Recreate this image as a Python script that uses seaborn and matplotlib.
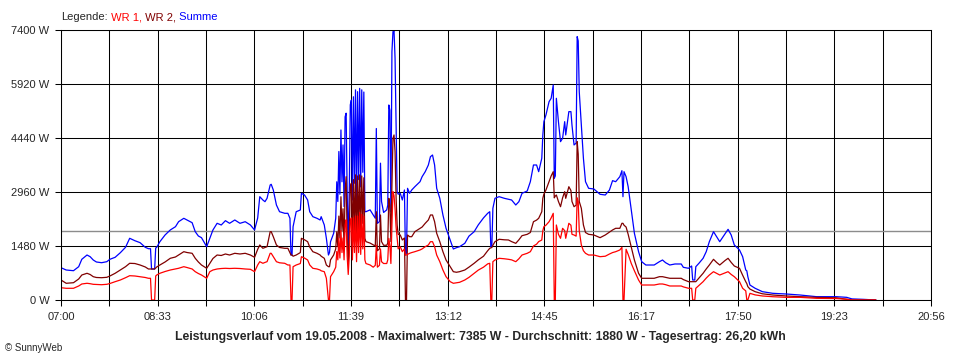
import matplotlib
matplotlib.use("Agg")
import matplotlib.pyplot as plt
import numpy as np
import pandas as pd
import seaborn as sns

# minutes after 07:00, values in W
minutes = [
    # 07:00 - 10:09
    0, 5, 12, 17, 20, 25, 28, 31, 34, 39, 44, 47, 52, 57, 62,
    66, 71, 76, 81, 84, 86, 87, 90, 91, 92, 95, 100, 105, 110, 113,
    118, 121, 126, 129, 132, 135, 140, 143, 146, 150, 154, 158, 162, 167, 172,
    177, 182, 186, 189,
    # 10:11 - 11:22
    191, 194, 196, 198, 201, 202, 204, 207, 210, 215, 218, 220, 221, 222, 223,
    226, 230, 231, 234, 237, 239, 242, 246, 249, 250, 253, 255, 257, 258, 259,
    262,
    # 11:24 - 11:53 (cloud spikes)
    264, 265, 266, 267, 268, 269, 270, 271, 272, 273, 274, 275, 276, 277, 278,
    279, 280, 281, 282, 283, 284, 285, 286, 287, 288, 289, 290, 291, 292, 293,
    # 11:57 - 20:03
    297, 300, 302, 303, 304, 306, 307, 308, 310, 313,
    314, 315, 316, 317, 318, 319, 320, 321, 322, 323,
    324, 326, 328, 330, 331, 332, 333, 335, 337, 340,
    345, 347, 350, 353, 355, 357, 359, 361, 364, 367,
    370, 374, 377, 380, 383, 388, 392, 397, 401, 406,
    410, 412, 413, 414, 415, 417, 421, 426, 430, 433,
    437, 440, 443, 448, 451, 454, 457, 459, 462, 463,
    464, 466, 469, 471, 473, 474, 475, 476, 478, 480,
    482, 484, 485, 488, 490, 491, 493, 495, 496, 497,
    498, 500, 502, 504, 507, 512, 518, 523, 527, 530,
    533, 537, 539, 540, 541, 543, 545, 548, 551, 555,
    558, 562, 570, 575, 578, 581, 585, 590, 596, 598,
    603, 606, 607, 609, 610, 613, 617, 620, 623, 627,
    630, 633, 638, 641, 644, 647, 652, 655, 658, 659,
    660, 662, 667, 674, 684, 697, 710, 726, 745, 755,
    760, 771, 783,
]

summe = [
    885, 822, 803, 913, 1116, 1233, 1187, 1096, 1042, 1022, 1050, 1116, 1170, 1296, 1444,
    1691, 1625, 1571, 1444, 1406, 1406, 850, 850, 1425, 1444, 1598, 1782, 1919, 2009, 2146,
    2239, 2193, 2119, 1872, 1754, 1708, 1461, 1691, 1919, 2102, 2056, 2174, 2102, 2193, 2102,
    2146, 2056, 1919, 2248,
    2832, 2740, 2695, 2787, 3152, 3171, 3015, 2604, 2420, 2376, 2376, 2239, 1233, 1233, 2009,
    2420, 2467, 2924, 2878, 2741, 2420, 2284, 2239, 2193, 2284, 2056, 1691, 1233, 1300, 1598,
    1828,
    2240, 3240, 2700, 4070, 2900, 4660, 3240, 4250, 2560, 5020, 5120, 2920, 1460, 3000, 5350,
    5480, 2740, 5570, 3200, 5760, 2700, 5710, 3300, 5800, 3100, 5760, 3500, 5700, 2420, 2420,
    2470, 2330, 2240, 4700, 2100, 2150, 3750, 2700, 2400, 2470,
    2600, 5345, 5200, 2420, 6806, 7355, 7385, 6624, 4888, 2969,
    2900, 2924, 2741, 3015, 1233, 1300, 3061, 2924, 3015, 3105,
    3243, 3380, 3517, 3700, 3928, 3974, 3700, 3061, 2787, 2330,
    1965, 1645, 1398, 1434, 1461, 1553, 1750, 1872, 2060, 2250,
    2376, 2420, 1461, 1461, 2512, 2787, 2832, 2787, 2760, 2741,
    2604, 2695, 2924, 2988, 3243, 3700, 3700, 3517, 3884, 4523,
    4888, 5071, 5436, 5528, 5893, 3336, 3400, 5528, 4888, 4340,
    4432, 4888, 4523, 5162, 5162, 4797, 4249, 4300, 7218, 7100,
    5710, 4797, 3884, 3243, 3061, 3043, 2897, 2878, 3015, 3271,
    3243, 3380, 3545, 2832, 3517, 3380, 3105, 2467, 1828, 1324,
    1050, 959, 959, 1050, 1096, 1022, 959, 987, 987, 896,
    869, 932, 548, 548, 913, 1006, 1143, 1324, 1598, 1872,
    1735, 1598, 1809, 1937, 1782, 1508, 1371, 1187, 822, 800,
    639, 411, 321, 228, 183, 164, 137, 91, 91, 73,
    30, 18, 0,
]

wr2 = [
    548, 458, 474, 576, 685, 732, 699, 639, 617, 611, 622, 658, 732, 822, 913,
    1006, 1000, 959, 905, 850, 850, 850, 850, 877, 905, 959, 1042, 1143, 1179, 1233,
    1324, 1302, 1280, 1143, 1042, 959, 869, 1006, 1138, 1233, 1220, 1261, 1233, 1280, 1261,
    1280, 1233, 1170, 1390,
    1508, 1417, 1440, 1461, 1872, 1872, 1735, 1508, 1440, 1417, 1417, 1290, 1233, 1233, 1200,
    1233, 1300, 1691, 1650, 1598, 1450, 1324, 1280, 1233, 1200, 1143, 959, 913, 913, 1100,
    1233,
    1400, 1870, 1460, 2300, 1700, 2830, 1900, 2500, 1460, 3000, 3380, 1700, 1000, 1800, 3100,
    3200, 1650, 3300, 1900, 3430, 1600, 3400, 1950, 3430, 1850, 3400, 2100, 3350, 1690, 1600,
    1560, 1510, 1480, 2420, 1350, 1400, 2330, 1600, 1500, 1500,
    1560, 2787, 2600, 1600, 3152, 4432, 4523, 4066, 2800, 2056,
    1800, 1782, 1645, 1700, 0, 0, 1782, 1735, 1735, 1872,
    1965, 2000, 2102, 2193, 2330, 2330, 2146, 1828, 1598, 1324,
    1096, 913, 776, 760, 776, 822, 900, 1006, 1100, 1200,
    1350, 1417, 1430, 1440, 1500, 1598, 1664, 1650, 1645, 1600,
    1553, 1650, 1763, 1800, 1850, 2146, 2190, 2239, 2420, 2787,
    2900, 3015, 3243, 3400, 3517, 2800, 2850, 2878, 2700, 2557,
    2800, 2969, 2787, 3105, 3000, 2700, 2557, 2600, 4340, 4000,
    2700, 2512, 2056, 1850, 1800, 1782, 1708, 1782, 1860, 1919,
    1965, 1965, 2102, 2102, 2050, 2000, 1800, 1450, 1096, 732,
    595, 595, 595, 639, 639, 620, 595, 595, 595, 560,
    502, 502, 502, 502, 502, 600, 732, 850, 959, 1115,
    1030, 959, 1080, 1143, 1030, 932, 869, 680, 500, 450,
    366, 300, 228, 170, 137, 110, 91, 73, 60, 18,
    0, 0, 0,
]

wr1 = [
    337, 321, 321, 384, 439, 458, 447, 430, 425, 419, 430, 452, 502, 548, 611,
    666, 658, 639, 617, 595, 595, 0, 0, 658, 685, 732, 781, 822, 850, 869,
    913, 891, 850, 776, 726, 685, 595, 776, 822, 850, 863, 869, 863, 869, 863,
    850, 841, 776, 959,
    1050, 1006, 1030, 1050, 1280, 1280, 1187, 1050, 1020, 1006, 959, 959, 0, 0, 913,
    959, 1000, 1187, 1150, 1096, 960, 869, 850, 822, 800, 776, 595, 0, 0, 640,
    776,
    900, 1330, 1100, 1700, 1150, 1900, 1300, 1700, 1100, 2050, 2200, 1200, 700, 1200, 2150,
    2250, 1100, 2250, 1300, 2300, 1050, 2300, 1300, 2400, 1250, 2350, 1400, 2300, 1100, 1000,
    960, 900, 950, 1500, 900, 950, 1400, 1050, 1000, 1000,
    1100, 1690, 1500, 1000, 2056, 2969, 2860, 2500, 2000, 1691,
    1400, 1461, 1324, 1400, 1233, 1233, 1250, 1280, 1300, 1324,
    1371, 1400, 1461, 1508, 1598, 1598, 1461, 1233, 1050, 822,
    639, 502, 458, 470, 485, 548, 620, 732, 820, 900,
    990, 1006, 0, 0, 1050, 1096, 1143, 1130, 1115, 1100,
    1050, 1130, 1233, 1280, 1324, 1480, 1530, 1600, 1645, 1900,
    2009, 2050, 2146, 2250, 2376, 0, 0, 2056, 1800, 1691,
    1965, 1900, 1691, 2102, 2050, 1800, 1782, 1750, 2800, 2700,
    1900, 1508, 1350, 1280, 1233, 1233, 1187, 1200, 1260, 1300,
    1324, 1371, 1444, 0, 0, 1390, 1250, 1000, 800, 548,
    411, 411, 411, 439, 439, 420, 384, 384, 384, 360,
    321, 321, 0, 0, 321, 400, 502, 600, 685, 776,
    730, 685, 740, 776, 700, 639, 502, 321, 250, 0,
    0, 183, 140, 110, 90, 73, 73, 46, 40, 20,
    0, 0, 0,
]

assert len(minutes) == len(summe) == len(wr2) == len(wr1)

y_ticks = [0, 1480, 2960, 4440, 5920, 7400]
y_labels = ["0 W", "1480 W", "2960 W", "4440 W", "5920 W", "7400 W"]
x_labels = ["07:00", "08:33", "10:06", "11:39", "13:12", "14:45", "16:17", "17:50", "19:23", "20:56"]
day_minutes = 836
average = 1880
colors = {"Summe": "#0000ff", "WR 2": "#800000", "WR 1": "#ff0000"}

title = ("Leistungsverlauf vom 19.05.2008 - Maximalwert: 7385 W - "
         "Durchschnitt: 1880 W - Tagesertrag: 26,20 kWh")

sns.set_style("white")
plt.rcParams["font.family"] = ["Liberation Sans", "DejaVu Sans"]

df = pd.concat([
    pd.DataFrame({"minute": minutes, "watt": vals, "series": name})
    for name, vals in [("Summe", summe), ("WR 2", wr2), ("WR 1", wr1)]
])

fig = plt.figure(figsize=(9.6, 3.6), dpi=100)
ax = fig.add_axes([61 / 960, 60 / 360, 870 / 960, 270 / 360])

# 18 vertical divisions, every second one labelled
grid_x = np.linspace(0, day_minutes, 19)
tick_text = [x_labels[i // 2] if i % 2 == 0 else "" for i in range(19)]

ax.set_xticks(grid_x)
ax.set_xticklabels(tick_text)
ax.set_yticks(y_ticks)
ax.set_yticklabels(y_labels)
ax.grid(True, color="black", lw=0.75, zorder=0)
ax.set_axisbelow(True)
ax.axhline(average, color="#8c8c8c", lw=1.0, zorder=1.5)

sns.lineplot(data=df, x="minute", y="watt", hue="series",
             hue_order=["Summe", "WR 2", "WR 1"], palette=colors,
             estimator=None, sort=False, legend=False, lw=0.9, ax=ax)

ax.set_xlim(0, day_minutes)
ax.set_ylim(0, 7400)
ax.set_xlabel("")
ax.set_ylabel("")
for s in ax.spines.values():
    s.set_color("black")
    s.set_linewidth(0.75)
ax.tick_params(axis="x", length=4, width=0.75, color="black", pad=5, labelsize=8)
ax.tick_params(axis="y", length=4.3, width=0.75, color="black", pad=4, labelsize=8)
ax.tick_params(bottom=True, left=True)

# coloured legend line at the top
prev = fig.text(61 / 960, 1 - 22 / 360, "Legende:", fontsize=8, va="bottom")
for label, col in [(" WR 1,", "#ff0000"), (" WR 2,", "#800000"), (" Summe", "#0000ff")]:
    prev = ax.annotate(label, xy=(1, 0), xycoords=prev, va="bottom",
                       fontsize=8, color=col, annotation_clip=False)

fig.text(0.5, 1 - 337 / 360, title, ha="center", va="center",
         fontsize=8.8, weight="bold")
fig.text(5 / 960, 1 - 348 / 360, "© SunnyWeb", fontsize=7, va="center")

fig.savefig("out.png", dpi=100, facecolor="white")
